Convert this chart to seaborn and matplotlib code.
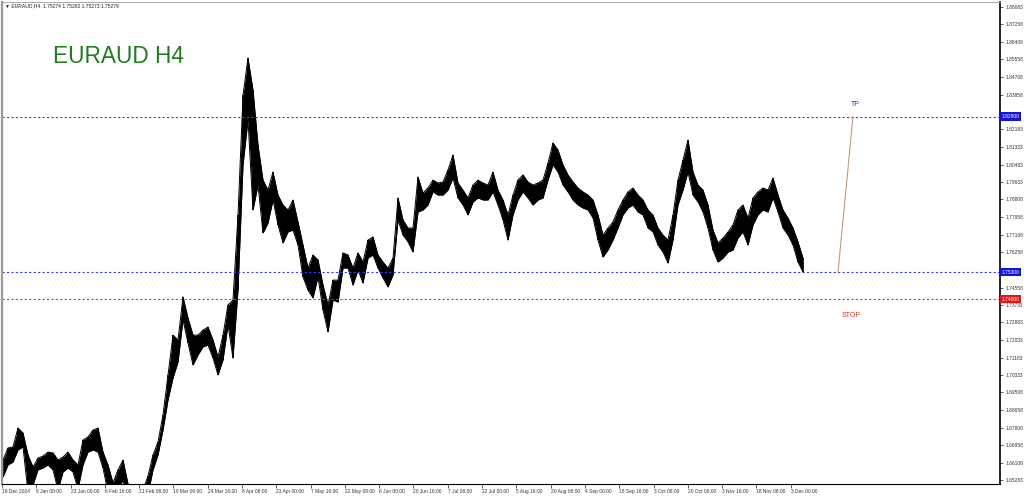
import pandas as pd
import seaborn as sns
import matplotlib.pyplot as plt
from matplotlib import transforms

sns.set_style("white")
plt.rcParams['font.family'] = ['Liberation Sans', 'DejaVu Sans']

chart_title = "EURAUD H4"
header_text = "\u25bc EURAUD,H4  1.75274 1.75282 1.75273 1.75279"

# H4 price envelope (high / low per sample)
bar_high = [
    1.6625, 1.6683, 1.6688, 1.6779, 1.6755, 1.6649, 1.6591, 1.6634, 1.6644, 1.6663,
    1.6659, 1.6625, 1.6639, 1.6663, 1.6625, 1.6601, 1.6721, 1.6736, 1.6769, 1.6779,
    1.6663, 1.6601, 1.6515, 1.6577, 1.6625, 1.6510, 1.6470, 1.6450, 1.6480, 1.6548,
    1.6649, 1.6712, 1.6842, 1.7035, 1.7227, 1.7203, 1.7411, 1.7309, 1.7227, 1.7227,
    1.7251, 1.7266, 1.7203, 1.7121, 1.7227, 1.7372, 1.7396, 1.7806,
    1.8384, 1.8562, 1.8408, 1.8143, 1.7974, 1.7926, 1.8013, 1.7902, 1.7854, 1.7830,
    1.7878, 1.7772, 1.7661, 1.7550, 1.7613, 1.7589, 1.7468,
    1.7372, 1.7492, 1.7492, 1.7623, 1.7613, 1.7550, 1.7623, 1.7579, 1.7685, 1.7700,
    1.7613, 1.7579, 1.7550, 1.7598, 1.7888, 1.7782, 1.7743, 1.7743, 1.7989, 1.7912,
    1.7936, 1.7974, 1.7960, 1.7965, 1.8023, 1.8095, 1.7960,
    1.7926, 1.7888, 1.7950, 1.7974, 1.7960, 1.7950, 1.8013, 1.7926, 1.7878, 1.7806,
    1.7902, 1.7974, 1.7999, 1.7965, 1.7950, 1.7960, 1.7974, 1.8056, 1.8153, 1.8119,
    1.8047, 1.7999, 1.7965, 1.7936, 1.7917, 1.7902, 1.7878, 1.7806, 1.7709, 1.7743,
    1.7772, 1.7830, 1.7878, 1.7917, 1.7936, 1.7902, 1.7878, 1.7830, 1.7806, 1.7743,
    1.7709, 1.7685, 1.7806, 1.7974, 1.8071, 1.8167, 1.8013, 1.7950, 1.7926, 1.7854,
    1.7733, 1.7671, 1.7695, 1.7724, 1.7758, 1.7830, 1.7854, 1.7791, 1.7888, 1.7917,
    1.7936, 1.7926, 1.7984, 1.7902, 1.7830, 1.7791, 1.7743, 1.7676, 1.7598,
]
bar_low = [
    1.6543, 1.6601, 1.6615, 1.6673, 1.6688, 1.6470, 1.6505, 1.6577, 1.6586, 1.6601,
    1.6577, 1.6480, 1.6567, 1.6586, 1.6567, 1.6485, 1.6601, 1.6663, 1.6673, 1.6663,
    1.6586, 1.6470, 1.6430, 1.6480, 1.6528, 1.6420, 1.6380, 1.6360, 1.6390, 1.6460,
    1.6577, 1.6649, 1.6769, 1.6914, 1.7020, 1.7097, 1.7300, 1.7189, 1.7083, 1.7131,
    1.7170, 1.7179, 1.7116, 1.7035, 1.7107, 1.7276, 1.7116, 1.7444,
    1.8047, 1.8264, 1.7830, 1.7950, 1.7719, 1.7767, 1.7878, 1.7758, 1.7671, 1.7724,
    1.7733, 1.7661, 1.7507, 1.7444, 1.7406, 1.7507, 1.7348,
    1.7242, 1.7396, 1.7386, 1.7550, 1.7550, 1.7468, 1.7541, 1.7478, 1.7598, 1.7613,
    1.7550, 1.7502, 1.7459, 1.7517, 1.7782, 1.7709, 1.7676, 1.7627, 1.7820, 1.7830,
    1.7854, 1.7917, 1.7902, 1.7902, 1.7926, 1.7984, 1.7888,
    1.7854, 1.7806, 1.7868, 1.7888, 1.7878, 1.7878, 1.7917, 1.7854, 1.7782, 1.7685,
    1.7806, 1.7878, 1.7917, 1.7888, 1.7854, 1.7878, 1.7888, 1.7974, 1.8047, 1.8013,
    1.7950, 1.7917, 1.7878, 1.7854, 1.7839, 1.7830, 1.7791, 1.7685, 1.7603, 1.7637,
    1.7685, 1.7743, 1.7806, 1.7839, 1.7854, 1.7820, 1.7806, 1.7743, 1.7724, 1.7661,
    1.7627, 1.7574, 1.7685, 1.7854, 1.7926, 1.8013, 1.7902, 1.7868, 1.7820, 1.7743,
    1.7637, 1.7579, 1.7598, 1.7627, 1.7637, 1.7695, 1.7724, 1.7661, 1.7758, 1.7806,
    1.7830, 1.7820, 1.7888, 1.7820, 1.7743, 1.7709, 1.7661, 1.7579, 1.7531,
]

date_labels = ["19 Dec 2024", "8 Jan 08:00", "23 Jan 00:00", "6 Feb 16:00", "21 Feb 08:00",
               "10 Mar 00:00", "24 Mar 16:00", "8 Apr 08:00", "23 Apr 00:00", "7 May 16:00",
               "22 May 08:00", "6 Jun 00:00", "20 Jun 16:00", "7 Jul 08:00", "22 Jul 00:00",
               "5 Aug 16:00", "20 Aug 08:00", "4 Sep 00:00", "18 Sep 16:00", "3 Oct 08:00",
               "20 Oct 00:00", "3 Nov 16:00", "18 Nov 08:00", "3 Dec 00:00"]

price_ticks = [1.88083, 1.87258, 1.86408, 1.85558, 1.84708, 1.83858, 1.83033, 1.82183,
               1.81333, 1.80483, 1.79633, 1.78808, 1.77958, 1.77108, 1.76258, 1.75408,
               1.74558, 1.73733, 1.72883, 1.72033, 1.71183, 1.70333, 1.69508, 1.68658,
               1.67808, 1.66958, 1.66108, 1.65283]

tp_level = 1.82800
entry_level = 1.75300
stop_level = 1.74000

df = pd.DataFrame({'bar': range(len(bar_high)), 'high': bar_high, 'low': bar_low})
last_bar = df['bar'].iloc[-1]

fig = plt.figure(figsize=(10.24, 4.96), dpi=100, facecolor='white')
ax = fig.add_axes([2/1024, 12/496, 998/1024, 482/496])

# price bars
ax.fill_between(df['bar'], df['low'], df['high'], color='black', lw=0)
ax.vlines(df['bar'], df['low'], df['high'], color='black', lw=1.1)
sns.lineplot(data=df, x='bar', y='high', color='black', lw=0.7, ax=ax)
sns.lineplot(data=df, x='bar', y='low', color='black', lw=0.7, ax=ax)

# levels
blue = '#3a3aff'
red = '#ff2a2a'
ax.axhline(tp_level, color=blue, lw=0.8, ls=(0, (2, 2)))
ax.axhline(entry_level, color=blue, lw=0.8, ls=(0, (2, 2)))
ax.axhline(stop_level, color=red, lw=0.8, ls=(0, (2, 2)))

# projected move from entry to target
sns.lineplot(x=[last_bar + 7, last_bar + 10], y=[entry_level, tp_level],
             color='#c49878', lw=0.8, ax=ax)
ax.annotate("TP", (last_bar + 10.4, tp_level), xytext=(0, 6), textcoords='offset points',
            ha='center', va='bottom', fontsize=5, color='#3030c8')
ax.annotate("STOP", (last_bar + 9.6, stop_level), xytext=(0, -9), textcoords='offset points',
            ha='center', va='top', fontsize=5, color='#e03030')

trans = transforms.blended_transform_factory(ax.transAxes, ax.transData)
for level, col in [(tp_level, '#1414d8'), (entry_level, '#1414d8'), (stop_level, '#e01818')]:
    ax.text(1.0015, level, f"{level:.5f}", transform=trans, fontsize=3.5, color='white',
            va='center', ha='left', clip_on=False, zorder=5,
            bbox=dict(boxstyle='square,pad=0.35', fc=col, ec='none'))

ax.set_xlim(-0.2, 199.4)
ax.set_ylim(1.65091, 1.88324)

# tick labels sitting under the level tags are hidden, as on the terminal
hidden = {1.83033, 1.75408}
ax.yaxis.tick_right()
ax.set_yticks(price_ticks)
ax.set_yticklabels(['' if v in hidden else f"{v:.5f}" for v in price_ticks])
ax.tick_params(axis='y', right=True, length=2, width=0.5, pad=2, labelsize=3.5, labelcolor='#333333')

ax.set_xticks([-0.2 + 6.858 * k for k in range(len(date_labels))])
ax.set_xticklabels(date_labels)
ax.tick_params(axis='x', bottom=True, length=3, width=0.5, pad=0.5, labelsize=3.5, labelcolor='#333333')
for lab in ax.get_xticklabels():
    lab.set_ha('left')
ax.set_xlabel('')
ax.set_ylabel('')

for side in ['left', 'top']:
    ax.spines[side].set_color('#9a9a9a')
ax.spines['left'].set_linewidth(1.6)
ax.spines['top'].set_linewidth(0.6)
ax.spines['right'].set_color('black')
ax.spines['right'].set_linewidth(1.2)
ax.spines['bottom'].set_color('black')
ax.spines['bottom'].set_linewidth(0.8)

fig.text(5/1024, 1 - 6/496, header_text, fontsize=3.6, va='center', ha='left', color='#222222')
fig.text(53/1024, 1 - 63/496, chart_title, fontsize=16.3, color='#1f7d1f', ha='left', va='baseline')

fig.savefig('out.png', dpi=100)
